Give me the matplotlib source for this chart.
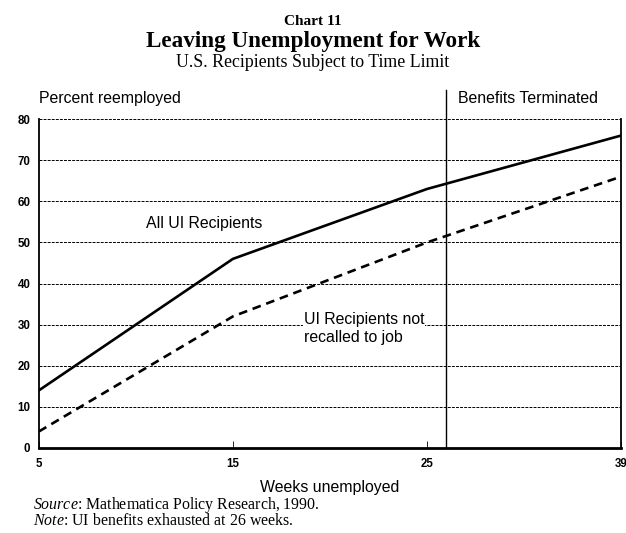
import matplotlib
matplotlib.use("Agg")
import matplotlib.pyplot as plt

plt.rcParams["mathtext.fontset"] = "custom"
plt.rcParams["mathtext.rm"] = "Liberation Serif"
plt.rcParams["mathtext.it"] = "Liberation Serif:italic"

weeks = ["5", "15", "25", "39"]
all_ui = [14, 46, 63, 76]
not_recalled = [4, 32, 50, 66]
yticks = [0, 10, 20, 30, 40, 50, 60, 70, 80]
benefit_end_pos = 2.1  # 26 weeks on the category axis

sans = ["Liberation Sans", "DejaVu Sans"]
serif = ["Liberation Serif", "DejaVu Serif"]
lab = 11.4

fig = plt.figure(figsize=(6.26, 5.33), dpi=100)
ax = fig.add_axes([0.062, 0.1595, 0.93, 0.617])

xpos = list(range(len(weeks)))
ax.plot(xpos, all_ui, color="black", lw=1.9, solid_joinstyle="miter", zorder=3)
ax.plot(xpos, not_recalled, color="black", lw=1.9, ls=(0, (3.3, 2.2)), zorder=3)

ax.set_xlim(0, 3)
ax.set_ylim(0, 80)
ax.set_xticks(xpos)
ax.set_xticklabels(weeks, fontsize=8.3, fontweight="bold", family=sans)
ax.set_yticks(yticks)
ax.set_yticklabels([str(v) for v in yticks], fontsize=8.3, fontweight="bold", family=sans)
ax.tick_params(axis="x", direction="in", length=5, width=0.6, pad=7)
ax.tick_params(axis="y", direction="out", length=0, pad=6)

for v in yticks[1:]:
    ax.axhline(v, color="black", lw=0.7, ls=(0, (3, 1.2)), zorder=1)

ax.spines["top"].set_visible(False)
ax.spines["left"].set_linewidth(1.3)
ax.spines["bottom"].set_linewidth(2.0)
ax.spines["right"].set_linewidth(1.3)

ax.plot([benefit_end_pos, benefit_end_pos], [0, 87], color="black", lw=1.0,
        clip_on=False, zorder=2)

ax.text(0, 83.3, "Percent reemployed", fontsize=lab, family=sans, ha="left", va="bottom")
ax.text(benefit_end_pos + 0.06, 83.3, "Benefits Terminated", fontsize=lab, family=sans,
        ha="left", va="bottom")
ax.text(0.55, 54.5, "All UI Recipients", fontsize=lab, family=sans, ha="left", va="center")
ax.text(1.365, 29.1, "UI Recipients not\nrecalled to job", fontsize=lab, family=sans,
        ha="left", va="center", linespacing=1.2,
        bbox=dict(facecolor="white", edgecolor="none", pad=0.5))

fig.text(0.527, 0.0855, "Weeks unemployed", fontsize=lab, family=sans, ha="center", va="center")

fig.text(0.5, 0.953, "Chart 11", fontsize=11, fontweight="bold", family=serif,
         ha="center", va="baseline")
fig.text(0.5, 0.912, "Leaving Unemployment for Work", fontsize=16.7, fontweight="bold",
         family=serif, ha="center", va="baseline")
fig.text(0.5, 0.874, "U.S. Recipients Subject to Time Limit", fontsize=12.9, family=serif,
         ha="center", va="baseline")

fig.text(0.052, 0.008,
         "$\\mathit{Source}$: Mathematica Policy Research, 1990.\n"
         "$\\mathit{Note}$: UI benefits exhausted at 26 weeks.",
         fontsize=11.4, family=serif, ha="left", va="bottom", linespacing=0.82)

fig.savefig("out.png", dpi=100)
